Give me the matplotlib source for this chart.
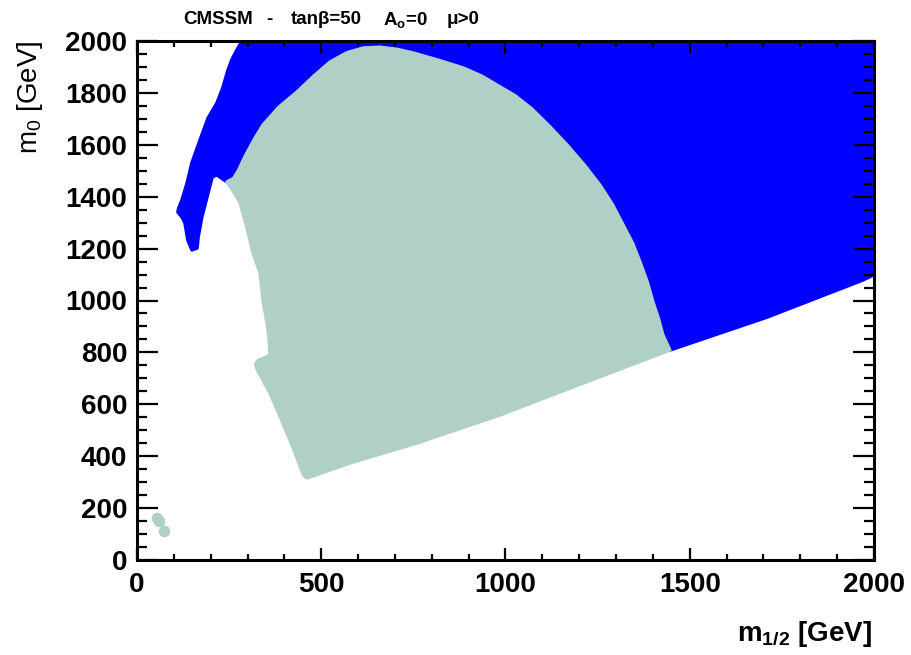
import matplotlib
matplotlib.use('Agg')
import matplotlib.pyplot as plt
from matplotlib.ticker import MultipleLocator
import numpy as np

plt.rcParams['font.family'] = ['Liberation Sans', 'DejaVu Sans']
plt.rcParams['mathtext.fontset'] = 'custom'
plt.rcParams['mathtext.rm'] = 'Liberation Sans'
plt.rcParams['mathtext.bf'] = 'Liberation Sans:bold'
plt.rcParams['mathtext.it'] = 'Liberation Sans:italic'

# outer (left) edge of the blue region, from the top down round the tip
blue_left_x = [285, 271, 258, 247, 233, 217, 193, 171, 149, 136, 122, 113, 111,
               122, 130, 138, 149, 163, 166, 176, 190, 204, 217, 244]
blue_left_y = [2000, 1965, 1930, 1888, 1820, 1761, 1703, 1618, 1530, 1453, 1387,
               1355, 1341, 1322, 1299, 1233, 1195, 1202, 1245, 1322, 1399, 1476,
               1484, 1457]

# boundary between blue and green (the dome)
dome_x = [244, 262, 275, 295, 320, 342, 385, 434, 480, 524, 570, 614, 659, 705,
          749, 820, 885, 935, 977, 1025, 1070, 1120, 1167, 1215, 1256, 1290,
          1319, 1345, 1365, 1385, 1400, 1415, 1427, 1446]
dome_y = [1457, 1470, 1500, 1560, 1625, 1676, 1745, 1803, 1865, 1919, 1955, 1973,
          1976, 1968, 1954, 1925, 1896, 1865, 1830, 1790, 1740, 1670, 1599, 1520,
          1445, 1370, 1291, 1220, 1148, 1070, 994, 930, 867, 809]

# left edge of the green region, top to bottom
green_left_x = [244, 262, 280, 298, 315, 334, 342, 352, 358, 361, 345, 330, 322,
                326, 361, 396, 423, 451, 461]
green_left_y = [1457, 1420, 1376, 1283, 1183, 1106, 1002, 920, 860, 790, 778, 770,
                755, 735, 643, 528, 436, 330, 316]

# lower edge of the allowed region
lower_x = [461, 578, 760, 985, 1200, 1446, 1710, 1970, 2000]
lower_y = [316, 374, 451, 559, 676, 805, 936, 1079, 1100]

# isolated points near the origin
dots_x = [54, 59, 72]
dots_y = [162, 150, 112]

blue = '#0000ff'
green = '#b0cfc7'

fig = plt.figure(figsize=(9.12, 6.55), dpi=100)
ax = fig.add_axes([137 / 912, 1 - 560 / 655, 737 / 912, 519 / 655])

lx = np.array(lower_x)
ly = np.array(lower_y)
right = lx > dome_x[-1]
left = lx < dome_x[-1]

bx = list(blue_left_x) + list(dome_x[1:]) + list(lx[right]) + [2000]
by = list(blue_left_y) + list(dome_y[1:]) + list(ly[right]) + [2000]
ax.fill(bx, by, color=blue, lw=2.5, ec=blue, joinstyle='round', zorder=1)

gx = list(dome_x) + list(lx[left][::-1]) + list(green_left_x[::-1][1:])
gy = list(dome_y) + list(ly[left][::-1]) + list(green_left_y[::-1][1:])
ax.fill(gx, gy, color=green, lw=2.5, ec=green, joinstyle='round', zorder=2)

ax.scatter(dots_x, dots_y, s=70, color=green, lw=0, zorder=2)

ax.set_xlim(0, 2000)
ax.set_ylim(0, 2000)
ax.xaxis.set_major_locator(MultipleLocator(500))
ax.xaxis.set_minor_locator(MultipleLocator(100))
ax.yaxis.set_major_locator(MultipleLocator(200))
ax.yaxis.set_minor_locator(MultipleLocator(50))

for s in ax.spines.values():
    s.set_linewidth(2.2)
    s.set_zorder(3)
ax.tick_params(which='both', direction='in', top=True, right=True, width=1.6,
               labelsize=20)
ax.tick_params(axis='x', which='major', length=9, pad=9)
ax.tick_params(axis='x', which='minor', length=4.5)
ax.tick_params(axis='y', which='major', length=15, pad=7)
ax.tick_params(axis='y', which='minor', length=7)
for lab in ax.get_xticklabels() + ax.get_yticklabels():
    lab.set_fontweight('bold')

fig.text(872 / 912, 1 - 634 / 655, r'm$_\mathbf{1/2}$ [GeV]', ha='right',
         va='center', fontsize=20, fontweight='bold')
fig.text(30 / 912, 1 - 40 / 655, r'm$_0$ [GeV]', ha='center', va='top',
         rotation=90, fontsize=20)

ty = 1 - 20 / 655
fig.text(183 / 912, ty, 'CMSSM', fontsize=13.5, fontweight='bold', va='center')
fig.text(266 / 912, ty, '-', fontsize=13.5, fontweight='bold', va='center')
fig.text(291 / 912, ty, 'tanβ=50', fontsize=13.5, fontweight='bold', va='center')
fig.text(383 / 912, ty, r'A$_\mathbf{o}$=0', fontsize=13.5, fontweight='bold',
         va='center')
fig.text(447 / 912, ty, 'μ>0', fontsize=13.5, fontweight='bold', va='center')

fig.savefig('out.png', dpi=100)
